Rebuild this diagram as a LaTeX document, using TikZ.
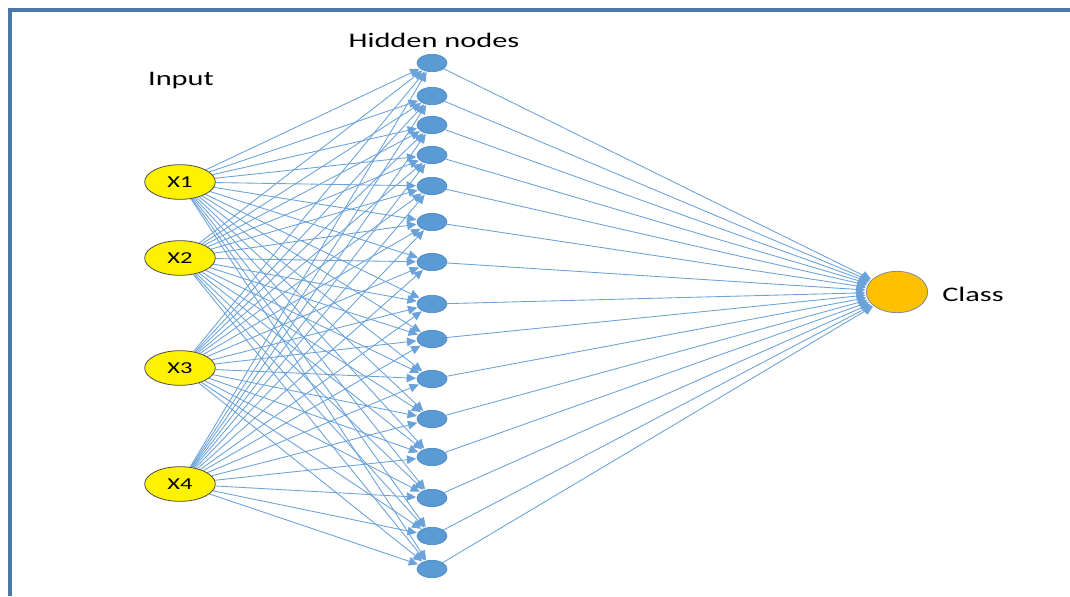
\documentclass[tikz,border=0pt]{standalone}
\usepackage{fontspec}
\setmainfont{Carlito}[FakeStretch=1.47]
\usetikzlibrary{shapes.geometric,arrows.meta,backgrounds}
\definecolor{frameblue}{HTML}{4A78A8}
\definecolor{hiddenfill}{HTML}{5B9BD5}
\definecolor{hiddenline}{HTML}{4A86C0}
\definecolor{edgeblue}{HTML}{6AA2D9}
\definecolor{classfill}{HTML}{FFC000}
\definecolor{classline}{HTML}{7F8C99}
\tikzset{
  inputnode/.style={ellipse, draw=black!70, line width=0.6pt, fill=yellow,
    minimum width=53pt, minimum height=26pt, inner sep=0pt, font=\fontsize{12.5}{14}\selectfont},
  hiddennode/.style={ellipse, draw=hiddenline, line width=0.5pt, fill=hiddenfill,
    minimum width=22.5pt, minimum height=13pt, inner sep=0pt},
  classnode/.style={ellipse, draw=classline, line width=0.6pt, fill=classfill,
    minimum width=46pt, minimum height=31pt, inner sep=0pt},
  caption/.style={font=\fontsize{15.5}{18}\selectfont, inner sep=0pt},
  link/.style={draw=edgeblue, line width=0.65pt,
    -{Triangle[length=7pt,width=6.5pt]}, shorten >=0.5pt},
  frameline/.style={draw=frameblue, line width=3pt}
}
\begin{document}
\begin{tikzpicture}[x=0.75pt,y=-0.75pt]
\useasboundingbox (0,0) rectangle (1070,596);
% frame on the top and left sides
\draw[frameline] (1070,10) -- (10,10) -- (10,596);

% captions
\node[caption] (lin) at (181,81) {Input};
\node[caption] (lhid) at (434,40) {Hidden nodes};
\node[caption] (lcls) at (973,294) {Class};

% input layer
\node[inputnode] (x1) at (180,182) {X1};
\node[inputnode] (x2) at (180,258) {X2};
\node[inputnode] (x3) at (180,368) {X3};
\node[inputnode] (x4) at (180,484) {X4};

% hidden layer
\foreach \y [count=\i] in {63,96,125,155,186,222,262,304,339,379,419,457,498,536,569}
  \node[hiddennode] (h\i) at (432,\y) {};

% output
\node[classnode] (c) at (897,292) {};

% connections, kept behind the nodes
\begin{pgfonlayer}{background}
\foreach \i in {1,...,15}{
  \foreach \x in {1,...,4}
    \draw[link] (x\x) -- (h\i);
  \draw[link] (h\i) -- (c);
}
\end{pgfonlayer}
\end{tikzpicture}
\end{document}
